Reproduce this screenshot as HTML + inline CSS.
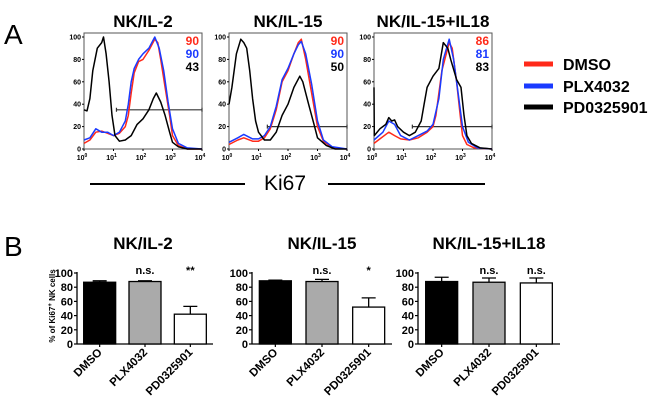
<!DOCTYPE html>
<html><head><meta charset="utf-8"><style>
html,body{margin:0;padding:0;background:#fff;}
svg{display:block;font-family:"Liberation Sans",Arial,sans-serif;}
</style></head><body>
<svg id="fig" width="650" height="400" viewBox="0 0 650 400" xmlns="http://www.w3.org/2000/svg">
<text x="4" y="44" font-size="28">A</text>
<text x="4" y="256" font-size="28">B</text>
<g>
<line x1="90" y1="184" x2="245" y2="184" stroke="#000" stroke-width="2"/>
<text x="285" y="190" font-size="21" text-anchor="middle">Ki67</text>
<line x1="328" y1="184" x2="485" y2="184" stroke="#000" stroke-width="2"/>
</g>
<g>
<line x1="524" y1="64" x2="553" y2="64" stroke="#ff2a1a" stroke-width="5"/>
<text x="563" y="70" font-size="16" font-weight="bold">DMSO</text>
<line x1="524" y1="86" x2="553" y2="86" stroke="#1a3aff" stroke-width="5"/>
<text x="563" y="92" font-size="16" font-weight="bold">PLX4032</text>
<line x1="524" y1="107" x2="553" y2="107" stroke="#000" stroke-width="5"/>
<text x="563" y="113" font-size="16" font-weight="bold">PD0325901</text>
</g>
</svg>
<script>
// ---- Panel A histogram data (x in log10 decades, y in % of max) ----
const histTitles=["NK/IL-2","NK/IL-15","NK/IL-15+IL18"];
const histPercents=[[90,90,43],[90,90,50],[86,81,83]];
const gateStart=[1.1,1.3,1.3];
const gateLevel=[35,20,20];
const p1RedX=[0,0.2,0.4,0.6,0.8,1.0,1.2,1.4,1.5,1.6,1.7,1.85,2.0,2.2,2.4,2.5,2.6,2.75,2.9,3.0,3.2,3.5,4];
const p1RedY=[5,8,15,16,14,12,14,20,30,50,68,78,80,88,98,95,80,55,30,12,3,0,0];
const p1BlueX=[0,0.2,0.4,0.6,0.8,1.0,1.2,1.4,1.5,1.6,1.7,1.85,2.0,2.2,2.4,2.55,2.7,2.85,3.0,3.2,3.5,4];
const p1BlueY=[8,10,18,15,15,12,15,25,40,60,72,80,85,90,100,90,70,42,18,5,1,0];
const p1BlackX=[0,0.1,0.2,0.3,0.45,0.6,0.66,0.75,0.85,0.95,1.05,1.2,1.4,1.6,1.8,2.0,2.2,2.35,2.45,2.6,2.75,2.9,3.0,3.2,3.5,4];
const p1BlackY=[35,34,45,70,90,95,100,85,60,30,12,7,8,12,22,27,35,45,50,42,30,15,6,2,0,0];
const p2RedX=[0,0.3,0.5,0.8,1.0,1.2,1.4,1.6,1.8,2.0,2.2,2.35,2.45,2.6,2.8,3.0,3.2,3.5,4];
const p2RedY=[4,8,10,7,7,10,18,35,60,70,85,95,98,80,50,20,7,1,0];
const p2BlueX=[0,0.3,0.5,0.8,1.0,1.2,1.4,1.6,1.8,2.0,2.2,2.35,2.45,2.6,2.8,3.0,3.2,3.5,4];
const p2BlueY=[6,10,13,9,9,12,20,38,62,72,85,93,96,85,58,25,8,2,0];
const p2BlackX=[0,0.1,0.25,0.4,0.5,0.6,0.7,0.8,0.9,1.0,1.2,1.4,1.6,1.8,2.0,2.2,2.4,2.5,2.7,2.9,3.0,3.3,3.6,4];
const p2BlackY=[40,55,85,98,95,90,70,45,25,15,8,8,15,30,40,55,65,60,40,20,10,3,0,0];
const p3RedX=[0,0.2,0.5,0.7,0.9,1.2,1.5,1.8,2.0,2.1,2.2,2.3,2.45,2.55,2.65,2.8,2.9,3.0,3.15,3.4,4];
const p3RedY=[5,9,15,12,9,8,10,15,20,30,50,70,85,95,90,60,35,12,4,1,0];
const p3BlueX=[0,0.3,0.5,0.7,0.9,1.2,1.5,1.8,2.0,2.2,2.35,2.55,2.7,2.85,3.0,3.2,3.5,4];
const p3BlueY=[8,15,25,22,12,8,12,16,22,45,80,98,80,50,20,6,1,0];
const p3BlackX=[0,0.01,0.2,0.4,0.5,0.6,0.7,0.8,1.0,1.2,1.4,1.6,1.7,1.8,2.0,2.2,2.35,2.5,2.6,2.8,2.95,3.05,3.15,3.3,3.6,4];
const p3BlackY=[55,12,18,22,28,25,26,20,15,12,15,25,40,55,65,72,95,90,80,62,55,30,12,5,1,0];
const histSeries=[
 [[p1RedX,p1RedY],[p1BlueX,p1BlueY],[p1BlackX,p1BlackY]],
 [[p2RedX,p2RedY],[p2BlueX,p2BlueY],[p2BlackX,p2BlackY]],
 [[p3RedX,p3RedY],[p3BlueX,p3BlueY],[p3BlackX,p3BlackY]]];
const histYTicks=[0,20,40,60,80,100];
const histXTicks=[0,1,2,3,4];
// ---- Panel B bar data ----
const barTitles=["NK/IL-2","NK/IL-15","NK/IL-15+IL18"];
const barCategories=["DMSO","PLX4032","PD0325901"];
const barMeans=[[87,88,42],[89,88,52],[88,87,86]];
const barErrors=[[2,1,11],[1,3,13],[6,6,7]];
const barSig=[["","n.s.","**"],["","n.s.","*"],["","n.s.","n.s."]];
const barYTicks=[0,20,40,60,80,100];

const NS="http://www.w3.org/2000/svg";
const svg=document.getElementById('fig');
function mk(tag,attrs,parent,text){const e=document.createElementNS(NS,tag);for(const k in attrs)e.setAttribute(k,attrs[k]);if(text!==undefined)e.textContent=text;(parent||svg).appendChild(e);return e;}
const colors=["#ff2a1a","#1a3aff","#000"];
const histLeft=[84,229,374], histW=118, histTop=37, histBot=149;
histTitles.forEach((t,i)=>{
 const g=mk('g',{});
 
 
 const L=histLeft[i];
 const sx=v=>L+v/4*histW, sy=v=>histBot-v/100*(histBot-histTop);
 const tt=mk('text',{x:L+histW/2,y:27,'font-size':17,'font-weight':'bold','text-anchor':'middle'},g,t);
 
 
 const box=mk('rect',{x:L,y:histTop-4,width:histW,height:histBot-histTop+4,fill:'none',stroke:'#555','stroke-width':1},g);
 
 
 histYTicks.forEach(v=>{
  mk('line',{x1:L-2,y1:sy(v),x2:L,y2:sy(v),stroke:'#000'},g);
  const lb=mk('text',{x:L-3,y:sy(v)+2.5,'font-size':7,'font-weight':'bold','text-anchor':'end'},g,String(v));
  
  
 });
 histXTicks.forEach(v=>{
  mk('line',{x1:sx(v),y1:histBot,x2:sx(v),y2:histBot+2,stroke:'#000'},g);
  const lb=mk('text',{x:sx(v)-2,y:histBot+11,'font-size':7,'font-weight':'bold','text-anchor':'middle'},g);
  
  
  mk('tspan',{},lb,'10');
  mk('tspan',{dy:-3,'font-size':5},lb,String(v));
 });
 const gy=sy(gateLevel[i]);
 const gate=mk('path',{d:`M${sx(gateStart[i])},${gy}H${sx(4)}M${sx(gateStart[i])},${gy-2}v4M${sx(4)},${gy-2}v4`,stroke:'#333','stroke-width':1.2,fill:'none'},g);
 
 
 [0,1,2].forEach(s=>{
  const [xs,ys]=histSeries[i][s];
  const d=xs.map((x,k)=>(k?'L':'M')+sx(x).toFixed(1)+','+sy(ys[k]).toFixed(1)).join('');
  const p=mk('path',{d:d,fill:'none',stroke:colors[s],'stroke-width':1.5,'stroke-linejoin':'round'},g);
  
  
  const n=mk('text',{x:L+histW-3,y:histTop+8+s*13,'font-size':12,'font-weight':'bold','text-anchor':'end',fill:colors[s]},g,String(histPercents[i][s]));
  
  
 });
});
const barAxisX=[77,252,418], barAxisEnd=[213,392,560], barY0=344, barY100=273;
const barFills=["#000","#aaa","#fff"];
barTitles.forEach((t,i)=>{
 const g=mk('g',{});
 
 
 const A=barAxisX[i], E=barAxisEnd[i];
 const sy=v=>barY0-v/100*(barY0-barY100);
 const step=(E-A)/3;
 const tt=mk('text',{x:(A+E)/2+(i==0?-2:0),y:249,'font-size':17,'font-weight':'bold','text-anchor':'middle'},g,t);
 
 
 mk('line',{x1:A,y1:barY100-1,x2:A,y2:barY0,stroke:'#000','stroke-width':1.3},g);
 mk('line',{x1:A,y1:barY0,x2:E,y2:barY0,stroke:'#000','stroke-width':1.3},g);
 barYTicks.forEach(v=>{
  mk('line',{x1:A-3,y1:sy(v),x2:A,y2:sy(v),stroke:'#000','stroke-width':1.2},g);
  const lb=mk('text',{x:A-4,y:sy(v)+4,'font-size':11,'font-weight':'bold','text-anchor':'end'},g,String(v));
  
  
 });
 barCategories.forEach((c,k)=>{
  const cx=A+step*(k+0.5), w=32;
  const top=sy(barMeans[i][k]), et=sy(barMeans[i][k]+barErrors[i][k]);
  const eb=mk('path',{d:`M${cx},${top}V${et}M${cx-7},${et}H${cx+7}`,stroke:'#000','stroke-width':1.3,fill:'none'},g);
  
  
  const r=mk('rect',{x:cx-w/2,y:top,width:w,height:barY0-top,fill:barFills[k],stroke:'#000','stroke-width':1.3},g);
  
  
  mk('line',{x1:cx,y1:barY0,x2:cx,y2:barY0+3,stroke:'#000','stroke-width':1.2},g);
  const lb=mk('text',{x:cx+3,y:barY0+9,'font-size':11.5,'font-weight':'bold','text-anchor':'end',transform:`rotate(-45 ${cx+3} ${barY0+9})`},g,c);
  
  
  if(barSig[i][k]){
   const s=mk('text',{x:cx,y:274,'font-size':11,'font-weight':'bold','text-anchor':'middle'},g,barSig[i][k]);
   
   
  }
 });
});
const yt=mk('text',{x:0,y:0,'font-size':8,'font-weight':'bold','text-anchor':'middle',transform:'translate(55,306) rotate(-90)'});


mk('tspan',{},yt,'% of Ki67');
mk('tspan',{dy:-3,'font-size':6},yt,'+');
mk('tspan',{dy:3},yt,' NK cells');
</script>
</body></html>
